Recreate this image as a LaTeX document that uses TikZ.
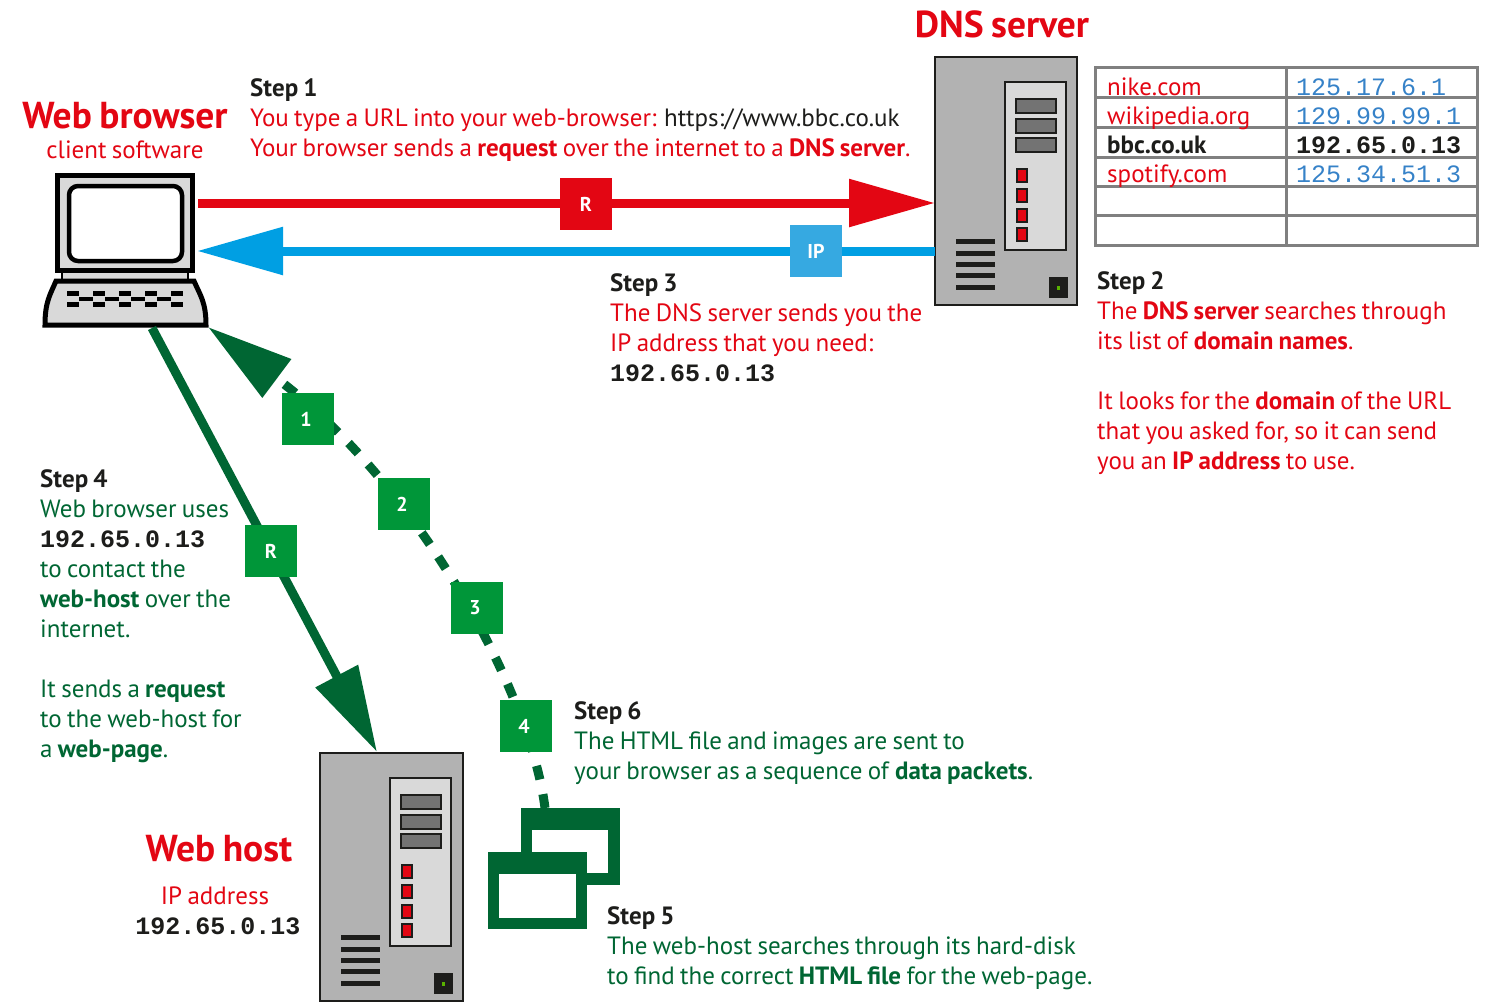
\documentclass[tikz,border=0pt]{standalone}
\usepackage{fontspec}
\setmainfont[WordSpace=0.8]{PT Sans}
\setmonofont{Liberation Mono}
\definecolor{dnsred}{RGB}{227, 6, 19}
\definecolor{ipblue}{RGB}{0, 159, 227}
\definecolor{ipboxblue}{RGB}{54, 169, 225}
\definecolor{hostgreen}{RGB}{0, 102, 51}
\definecolor{boxgreen}{RGB}{0, 150, 57}
\definecolor{tableblue}{RGB}{54, 130, 200}
\definecolor{inkblack}{RGB}{29, 29, 27}
\definecolor{caseblue}{RGB}{178, 178, 178}
\usetikzlibrary{
  arrows.meta,
  calc,
  positioning,
}
\newcommand{\bodyfont}{\fontsize{25}{30}\selectfont}
\newcommand{\titlefont}{\fontsize{37.5}{40}\selectfont\bfseries}
\tikzset{
  bigtip/.style={-{Triangle[length=86pt,width=46pt]}},
  stepbox/.style={anchor=north west,inner sep=0pt,align=left,font=\bodyfont,execute at begin node={\rule{0pt}{21pt}}},
  tag/.style={rectangle,minimum width=52,minimum height=52,inner sep=0pt,text=white,font=\fontsize{20}{24}\selectfont\bfseries},
  numtag/.style={tag,fill=boxgreen,execute at end node={\hspace{4pt}}},
  casebox/.style={draw=inkblack,line width=2.5,rectangle,minimum height=248,inner sep=0pt,outer sep=0pt,fill=caseblue},
  server/.pic={
        \draw[draw=inkblack,line width=2.5,fill=black!15] (70,25) rectangle (131,193);
        \foreach \y in {42,62,81}
            \draw[draw=inkblack,line width=2.5,fill=black!55] (81,\y) rectangle (121,\y+14);
        \foreach \y in {112,132,152,171}
            \draw[draw=inkblack,line width=2.5,fill=dnsred] (82,\y) rectangle (92,\y+13);
        \foreach \y in {182,194,205,216,228}
            \fill[inkblack] (21,\y) rectangle (60,\y+5);
        \fill[inkblack] (114,220) rectangle (133,241);
        \fill[green!50!yellow!70!black] (122,229) rectangle (125,233);
  },
}
\begin{document}
\begin{tikzpicture}[x=1pt,y=-1pt]
        \useasboundingbox (0,0) rectangle (1490,1001);

        \node[casebox,minimum width=142] (dns) at (1006,181) {};
        \pic at (dns.north west) {server};
        \node[casebox,minimum width=143] (host) at (391.5,877) {};
        \pic at (host.north west) {server};

        \node[draw=black,line width=5,rectangle,minimum width=135,minimum height=95,inner sep=0pt,fill=black!15] (laptop) at (125,223) {};
        \draw[draw=black,line width=4.5,rounded corners=9,fill=white] (69,186) rectangle (182,261);
        \fill[black!15] (62,273) rectangle (188,281);
        \draw[draw=black,line width=1.5] (62,273) -- (62,281) (188,273) -- (188,281);
        \draw[draw=black,line width=5,fill=black!15] (56,281) -- (194,281) .. controls (200,295) and (206,302) .. (206,325) -- (45,325) .. controls (45,302) and (50,295) .. (56,281) -- cycle;
        \foreach \x in {67,93,119,145,171}
        {
            \fill[black] (\x,291) rectangle (\x+12,296);
            \fill[black] (\x,302) rectangle (\x+12,307);
        }
        \foreach \x in {79,105,131,157}
            \fill[black] (\x,297) rectangle (\x+14,301);
        \coordinate (laptopfoot) at (152,328);
        \coordinate (laptopcorner) at (208,327);
        \coordinate (redstart) at (198,203);
        \coordinate (bluestart) at (197,251);

        \draw[bigtip,line width=9,color=dnsred] (redstart) -- (dns.west |- redstart);
        \draw[bigtip,line width=9,color=ipblue] (dns.west |- bluestart) -- (bluestart);
        \draw[bigtip,line width=9,color=hostgreen] (laptopfoot) -- (377,752) coordinate (hosttop);

        \node[fill=hostgreen,rectangle,minimum width=99,minimum height=77,inner sep=0pt] (fileback) at (570.5,846.5) {};
        \draw[bigtip,line width=9,color=hostgreen,dash pattern=on 14pt off 15pt] (545,808) .. controls (530,690) and (418,484) .. (laptopcorner);
        \fill[white] (532,830) rectangle (608,873);
        \node[fill=hostgreen,rectangle,minimum width=99,minimum height=77,inner sep=0pt] (filefront) at (537.5,890.5) {};
        \fill[white] (499,874) rectangle (576,918);

        \node[tag,fill=dnsred] (redtag) at (586,204) {R};
        \node[tag,fill=ipboxblue] (bluetag) at (816,251) {IP};
        \node[tag,fill=boxgreen] (greentag) at (271,551) {R};
        \node[numtag] (packet1) at (308,419) {1};
        \node[numtag] (packet2) at (404,504) {2};
        \node[numtag] (packet3) at (477,608) {3};
        \node[numtag] (packet4) at (526,726) {4};

        \draw[black!50,line width=3] (1095,67) rectangle (1477,245);
        \foreach \y in {97,127,157,186,215}
            \draw[black!50,line width=3] (1095,\y) -- (1477,\y);
        \draw[black!50,line width=3] (1286,67) -- (1286,245);
        \node[stepbox,text=dnsred] (name1) at (1107,74) {nike.com};
        \node[stepbox,text=dnsred] (name2) at (1107,103) {wikipedia.org};
        \node[stepbox,text=inkblack] (name3) at (1107,132) {\textbf{bbc.co.uk}};
        \node[stepbox,text=dnsred] (name4) at (1107,161) {spotify.com};
        \node[stepbox,text=tableblue] (addr1) at (1296,74) {\ttfamily 125.17.6.1};
        \node[stepbox,text=tableblue] (addr2) at (1296,103) {\ttfamily 129.99.99.1};
        \node[stepbox,text=inkblack] (addr3) at (1296,132) {\ttfamily\bfseries 192.65.0.13};
        \node[stepbox,text=tableblue] (addr4) at (1296,161) {\ttfamily 125.34.51.3};

        \node[text=dnsred,font=\titlefont] (browsertitle) at (125,116) {Web browser};
        \node[text=dnsred,font=\bodyfont] (browsersub) at (125,150) {client software};
        \node[text=dnsred,font=\titlefont] (dnstitle) at (1002,24) {DNS server};
        \node[text=dnsred,font=\titlefont] (hosttitle) at (219,849) {Web host};
        \node[text=dnsred,font=\bodyfont] (hostsub) at (215,896) {IP address};
        \node[text=inkblack,font=\bodyfont\ttfamily\bfseries] (hostip) at (218,926) {192.65.0.13};

        \node[stepbox,text=dnsred] (step1) at (250,78) {\textcolor{inkblack}{\textbf{Step 1}}\\You type a URL into your web-browser: \textcolor{inkblack}{https://www.bbc.co.uk}\\Your browser sends a \textbf{request} over the internet to a \textbf{DNS server}.};
        \node[stepbox,text=dnsred] (step2) at (1097,271) {\textcolor{inkblack}{\textbf{Step 2}}\\The \textbf{DNS server} searches through\\its list of \textbf{domain names}.\\~\\It looks for the \textbf{domain} of the URL\\that you asked for, so it can send\\you an \textbf{IP address} to use.};
        \node[stepbox,text=dnsred] (step3) at (610,273) {\textcolor{inkblack}{\textbf{Step 3}}\\The DNS server sends you the\\IP address that you need:\\\textcolor{inkblack}{\ttfamily\bfseries 192.65.0.13}};
        \node[stepbox,text=hostgreen] (step4) at (40,469) {\textcolor{inkblack}{\textbf{Step 4}}\\Web browser uses\\\textcolor{inkblack}{\ttfamily\bfseries 192.65.0.13}\\to contact the\\\textbf{web-host} over the\\internet.\\~\\It sends a \textbf{request}\\to the web-host for\\a \textbf{web-page}.};
        \node[stepbox,text=hostgreen] (step5) at (607,906) {\textcolor{inkblack}{\textbf{Step 5}}\\The web-host searches through its hard-disk\\to find the correct \textbf{HTML file} for the web-page.};
        \node[stepbox,text=hostgreen] (step6) at (574,701) {\textcolor{inkblack}{\textbf{Step 6}}\\The HTML file and images are sent to\\your browser as a sequence of \textbf{data packets}.};
\end{tikzpicture}
\end{document}
